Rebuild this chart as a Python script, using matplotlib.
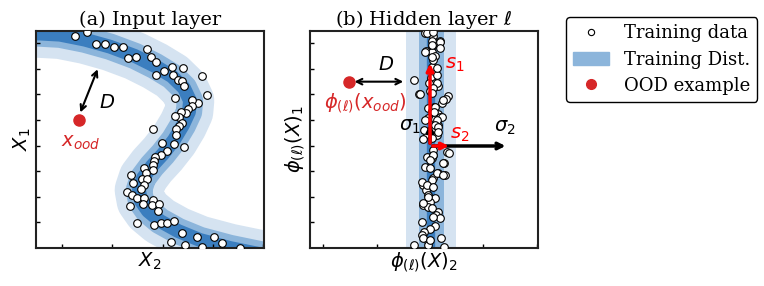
import matplotlib.pyplot as plt
from matplotlib.lines import Line2D
from matplotlib.patches import Patch

plt.rcParams['font.family'] = 'DejaVu Serif'
plt.rcParams['mathtext.fontset'] = 'dejavusans'

# ---- panel (a): input space ----
# centre line of the S-shaped training distribution
curve_x = [-1.08, 0.00, 0.72, 1.47, 2.22, 2.97, 3.57, 4.08, 4.44, 4.62, 4.59, 4.41,
           4.14, 3.81, 3.48, 3.21, 3.09, 3.15, 3.36, 3.72, 4.26, 4.92, 5.82, 6.84, 7.92]
curve_y = [6.66, 6.44, 6.40, 6.25, 6.04, 5.76, 5.46, 5.15, 4.80, 4.42, 4.08, 3.69,
           3.24, 2.82, 2.46, 2.10, 1.74, 1.41, 1.11, 0.81, 0.51, 0.24, 0.00, -0.21, -0.42]

train_a_x = [1.18, 1.54, 1.79, 2.08, 2.35, 2.62, 2.76, 3.00, 3.33, 3.45, 3.61, 3.60,
             3.84, 4.08, 4.10, 4.41, 4.26, 4.38, 4.44, 4.98, 5.12, 4.16, 4.85, 4.69,
             4.67, 4.57, 4.49, 4.36, 4.30, 4.16, 4.37, 4.28, 4.19, 4.20, 3.50, 4.45,
             3.79, 4.15, 3.94, 3.76, 3.58, 3.54, 3.52, 3.50, 3.24, 3.29,
             2.86, 3.19, 2.90, 3.32, 3.25, 3.14, 2.73, 2.87, 3.02, 3.25, 3.50, 3.20,
             3.47, 3.69, 2.83, 3.66, 3.04, 3.53, 3.76, 3.93, 4.15, 4.39, 4.06, 4.47,
             4.84, 4.99, 5.34, 5.59, 6.12]
train_a_y = [6.36, 6.47, 6.11, 6.11, 6.02, 6.02, 5.69, 5.72, 5.96, 5.72, 5.59, 5.18,
             5.31, 5.42, 5.18, 5.39, 5.04, 5.02, 4.86, 5.15, 4.58, 4.50, 4.36, 4.44,
             4.26, 4.16, 4.04, 4.08, 3.94, 3.95, 3.74, 3.66, 3.56, 3.38, 3.57, 3.03,
             3.14, 3.12, 2.90, 2.78, 2.74, 2.62, 2.48, 2.34, 2.41, 2.26,
             2.18, 2.06, 1.94, 2.06, 1.89, 1.77, 1.67, 1.59, 1.49, 1.51, 1.44, 1.32,
             1.30, 1.31, 1.26, 1.12, 0.75, 0.69, 0.74, 0.74, 0.82, 0.45, 0.19, 0.08,
             0.34, 0.04, 0.34, 0.14, 0.01]

ood_a = (1.29, 3.84)
dist_a = [(1.88, 5.44), (1.30, 3.99)]

# ---- panel (b): hidden layer ----
band_b_x = 3.62
train_b_x = [3.45, 3.70, 3.65, 3.90, 3.88, 3.67, 3.47, 3.65, 3.75, 3.67, 3.73, 3.63,
             3.80, 3.75, 3.83, 3.13, 3.27, 3.60, 4.15, 4.07, 3.95, 3.73, 3.55, 3.65,
             3.83, 3.53, 3.75, 3.90, 3.85, 3.73, 3.50, 3.80,
             3.50, 3.70, 3.90, 3.67, 3.90, 3.46, 3.70, 3.65, 3.80, 3.58, 3.80, 3.70,
             3.30, 3.65, 4.00, 3.75, 3.72, 3.95, 3.45, 3.80, 3.75, 3.85, 3.42, 3.85,
             3.40, 3.65, 4.10, 3.50, 3.65, 3.70, 4.03, 3.45, 3.60, 3.83, 4.05, 3.70,
             3.40, 3.47, 3.53, 3.75, 3.60, 3.40, 3.55, 3.85, 3.77, 3.90, 3.35, 3.75,
             3.60, 3.43, 3.35, 3.55, 3.13, 3.55, 4.03,
             3.68, 4.17, 3.70, 3.60, 4.00, 3.80, 4.00, 3.35, 3.65, 3.50, 3.70, 3.55,
             3.40, 3.65, 3.70, 3.92, 3.40, 3.60]
train_b_y = [6.45, 6.35, 6.20, 6.22, 6.12, 6.05, 5.90, 5.88, 5.75, 5.42, 5.22, 5.10,
             5.20, 4.95, 4.85, 5.03, 4.62, 4.70, 4.55, 4.47, 4.35, 4.22, 4.20, 4.10,
             4.02, 3.90, 3.88, 3.92, 3.70, 3.60, 3.42, 3.40,
             6.44, 6.47, 6.19, 6.09, 5.99, 5.89, 5.64, 5.74, 5.39, 4.94, 4.94, 4.79,
             4.61, 4.64, 4.44, 4.24, 4.09, 3.94, 3.84, 3.84, 3.69, 3.64, 3.54, 3.49,
             3.27, 3.31, 2.89, 2.74, 2.69, 2.79, 2.54, 2.44, 2.39, 2.24, 2.19, 2.09,
             1.89, 1.74, 1.59, 1.49, 1.39, 1.29, 1.24, 1.07, 0.99, 0.89, 0.77, 0.67,
             0.57, 0.49, 0.39, 0.21, 0.09, 0.09, 0.04,
             2.94, 2.86, 2.79, 2.64, 2.54, 2.24, 2.19, 1.99, 2.04, 1.89, 1.84, 1.54,
             1.34, 1.19, 0.94, 0.29, 0.29, 0.24]

ood_b = (1.18, 4.99)
dist_b = [(1.25, 4.99), (2.88, 4.99)]
origin_b = (3.60, 3.06)
s1_tip = (3.60, 5.62)
s2_tip = (4.25, 3.06)
sigma1_tip = (3.60, 3.80)
sigma2_tip = (5.95, 3.06)

light, medium, dark = '#d5e3f1', '#8cb5db', '#3b7ebf'
ood_red = '#d62728'


def style_axes(ax, xticks):
    ax.set_xlim(0, 6.84)
    ax.set_ylim(0, 6.51)
    ax.set_xticks(xticks)
    ax.set_yticks([0.768 * k for k in range(1, 9)])
    ax.tick_params(direction='in', length=3, width=1, labelleft=False, labelbottom=False)
    for sp in ax.spines.values():
        sp.set_linewidth(1.5)
        sp.set_color('#222222')


fig = plt.figure(figsize=(7.64, 2.86), dpi=100)
ax1 = fig.add_axes([0.0471, 0.1329, 0.2984, 0.7587])
ax2 = fig.add_axes([0.4058, 0.1329, 0.2984, 0.7587])

# (a) input layer
for col, lw in [(light, 35), (medium, 19), (dark, 10)]:
    ax1.plot(curve_x, curve_y, color=col, lw=lw, solid_capstyle='butt',
             solid_joinstyle='round', zorder=1)
ax1.plot(train_a_x, train_a_y, 'o', ms=5.5, mfc='white', mec='black', mew=0.8, zorder=3)
ax1.plot(*ood_a, 'o', color=ood_red, ms=8, zorder=4)
ax1.annotate('', xy=dist_a[0], xytext=dist_a[1],
             arrowprops=dict(arrowstyle='<->', lw=1.5, color='black'))
ax1.text(2.14, 4.36, '$D$', fontsize=14, ha='center', va='center')
ax1.text(1.35, 3.14, '$x_{ood}$', fontsize=14, color=ood_red, ha='center', va='center')
style_axes(ax1, [0.78 + 1.51 * k for k in range(5)])
ax1.set_title('(a) Input layer', fontsize=14, pad=4)
ax1.set_xlabel('$X_2$', fontsize=14, labelpad=2)
ax1.set_ylabel('$X_1$', fontsize=14, labelpad=2)

# (b) hidden layer
for col, lw in [(light, 36), (medium, 18), (dark, 6)]:
    ax2.plot([band_b_x, band_b_x], [-1, 8], color=col, lw=lw, solid_capstyle='butt', zorder=1)
ax2.plot(train_b_x, train_b_y, 'o', ms=5.5, mfc='white', mec='black', mew=0.8, zorder=3)
ax2.plot(*ood_b, 'o', color=ood_red, ms=8, zorder=4)
ax2.annotate('', xy=dist_b[0], xytext=dist_b[1],
             arrowprops=dict(arrowstyle='<->', lw=1.5, color='black'))
ax2.annotate('', xy=sigma1_tip, xytext=origin_b, zorder=5,
             arrowprops=dict(arrowstyle='->', lw=2.5, color='black'))
ax2.annotate('', xy=sigma2_tip, xytext=origin_b, zorder=5,
             arrowprops=dict(arrowstyle='->', lw=2.5, color='black'))
ax2.annotate('', xy=s1_tip, xytext=origin_b, zorder=6,
             arrowprops=dict(arrowstyle='->', lw=2.5, color='red'))
ax2.annotate('', xy=s2_tip, xytext=origin_b, zorder=6,
             arrowprops=dict(arrowstyle='->', lw=2.5, color='red'))
ax2.text(2.28, 5.49, '$D$', fontsize=14, ha='center', va='center')
ax2.text(1.65, 4.34, r'$\phi_{(\ell)}(x_{ood})$', fontsize=14, color=ood_red,
         ha='center', va='center')
ax2.text(4.35, 5.49, '$s_1$', fontsize=14, color='red', ha='center', va='center')
ax2.text(4.50, 3.39, '$s_2$', fontsize=14, color='red', ha='center', va='center')
ax2.text(3.00, 3.63, r'$\sigma_1$', fontsize=14, ha='center', va='center')
ax2.text(5.85, 3.60, r'$\sigma_2$', fontsize=14, ha='center', va='center')
style_axes(ax2, [0.4 + 1.6 * k for k in range(5)])
ax2.set_title(r'(b) Hidden layer $\ell$', fontsize=14, pad=4)
ax2.set_xlabel(r'$\phi_{(\ell)}(X)_2$', fontsize=14, labelpad=2)
ax2.set_ylabel(r'$\phi_{(\ell)}(X)_1$', fontsize=14, labelpad=2)

handles = [
    Line2D([], [], ls='none', marker='o', ms=4.5, mfc='white', mec='black', mew=0.8),
    Patch(color=medium),
    Line2D([], [], ls='none', marker='o', ms=7, color=ood_red),
]
fig.legend(handles, ['Training data', 'Training Dist.', 'OOD example'],
           loc='upper left', bbox_to_anchor=(0.741, 0.94), borderaxespad=0,
           fontsize=13, frameon=True, edgecolor='black', fancybox=True,
           framealpha=1, handlelength=2.0, labelspacing=0.45)

fig.savefig('out.png', dpi=100)
